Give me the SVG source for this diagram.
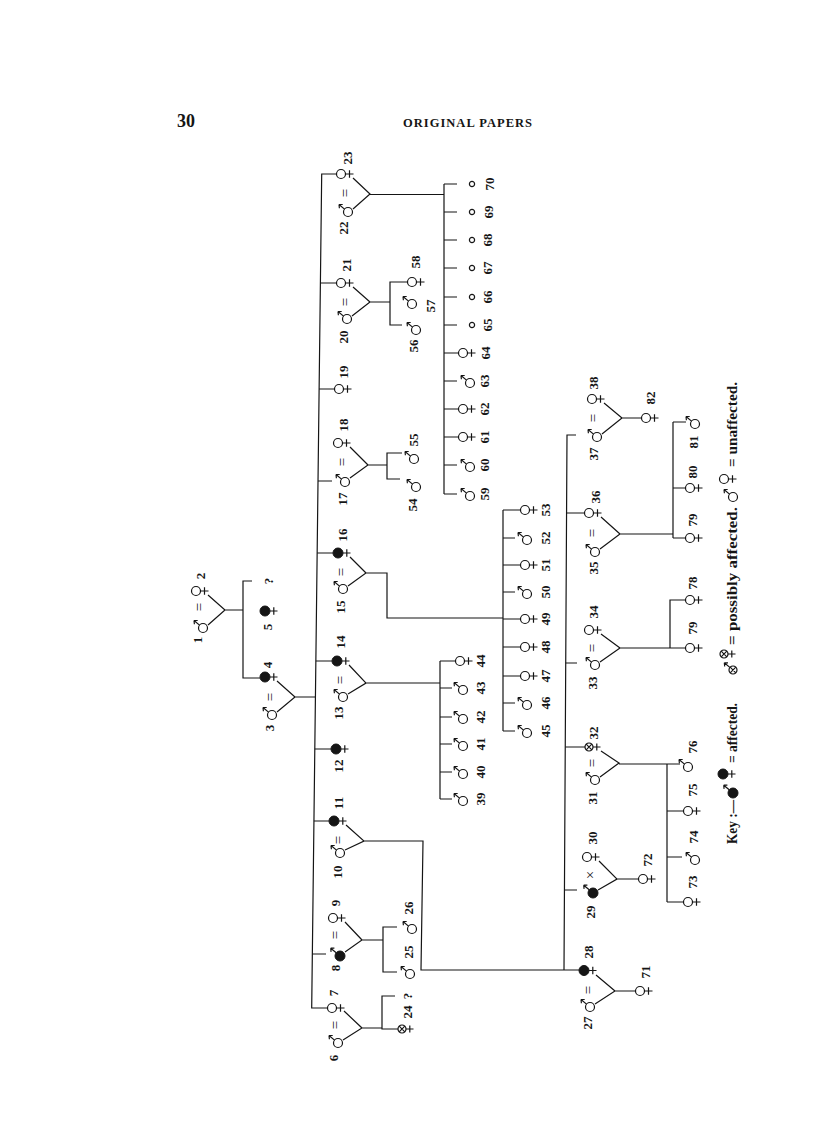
<svg xmlns="http://www.w3.org/2000/svg" width="816" height="1136" viewBox="0 0 816 1136">
<style>
.s{fill:none;stroke:#151515;stroke-width:1.2}
.o{fill:#fff;stroke:#151515;stroke-width:1.2}
.k{fill:#151515;stroke:#151515;stroke-width:1}
.n{font-family:"Liberation Serif",serif;font-size:13px;font-weight:bold;fill:#151515;text-anchor:middle;dominant-baseline:central}
.eq{font-family:"Liberation Serif",serif;font-size:15px;fill:#151515;text-anchor:middle;dominant-baseline:central}
.key{font-family:"Liberation Serif",serif;font-size:14px;font-weight:bold;fill:#151515}
.hd{font-family:"Liberation Serif",serif;font-weight:bold;fill:#151515}
</style>
<defs>
<g id="F"><circle r="4.5" class="o"/><path class="s" d="M4.5 0H12.5M8.5-3.8V3.8"/></g>
<g id="FA"><circle r="5" class="k"/><path class="s" d="M5 0H12.5M8.8-3.8V3.8"/></g>
<g id="FP"><circle r="4" class="o"/><path class="s" d="M-2.8-2.8L2.8 2.8M-2.8 2.8L2.8-2.8M4 0H11.5M7.8-3.6V3.6"/></g>
<g id="M"><circle r="4.5" class="o"/><path class="s" d="M-3.5-2.9L-9-7.5M-9-7.5H-5.3M-9-7.5L-8.6-3.8"/></g>
<g id="MA"><circle r="5" class="k"/><path class="s" d="M-3.8-3.2L-9.3-7.8M-9.3-7.8H-5.6M-9.3-7.8L-8.9-4.1"/></g>
<g id="MP"><circle r="4" class="o"/><path class="s" d="M-2.8-2.8L2.8 2.8M-2.8 2.8L2.8-2.8M-3.2-2.6L-8.7-7.2M-8.7-7.2H-5M-8.7-7.2L-8.3-3.5"/></g>
<g id="U"><circle r="2.6" class="o"/></g>
</defs>
<rect width="816" height="1136" fill="#fff"/>
<g id="header">
<text class="hd" x="177" y="127" font-size="18">30</text>
<text class="hd" x="403" y="127" font-size="12.5" textLength="129" lengthAdjust="spacing">ORIGINAL PAPERS</text>
</g>

<g id="connectors" class="s">
<path d="M208 595L225 610L208 625M225 610H243M252 581H243V678H260"/>
<path d="M277 681L295 697L277 712M295 697H315.4"/>
<path d="M336.5 174H321.7L311.7 1008H327.5"/>
<path d="M320.4 283H336.5M319.1 389H334.5M318 481H332M317.2 553H333M315.9 661H332M314.8 749H331M313.9 821H329M312.3 954H326"/>
<path d="M353 178L370 194L353 209M370 194.5H444"/>
<path d="M444 184V494M444 184H457M444 212H457M444 240H457M444 268H457M444 297H457M444 325H457M444 353H458.5M444 381H457M444 409H458.5M444 437H458.5M444 465H457M444 494H457"/>
<path d="M353 287L370 302L352 316M370 302H390M407.5 282H390V325H402"/>
<path d="M350 447L368 465L350 478M368 465H387M402 453H387V479H400"/>
<path d="M350 557L366 573L348 586M366 573H387V618H503"/>
<path d="M503 510V731M503 510H520.5M503 538H515M503 565H520.5M503 592H515M503 619H520.5M503 647H520.5M503 676H520.5M503 703H515M503 731H515"/>
<path d="M349 665L366 683L348 694M366 683H440"/>
<path d="M440 661V799M440 661H455.5M440 688H452M440 717H452M440 744H452M440 772H452M440 799H452"/>
<path d="M346 825L364 841L345 850M364 841H423L421 970H579"/>
<path d="M345 922L362 940L345 952M362 940H383M397 927H383V972H397"/>
<path d="M344 1011L362 1028L343 1040M362 1028H382M395 996H382V1029H398"/>
<path d="M576 435H567L564 970"/>
<path d="M566.6 513H584.5M565.7 663H577M565.3 747H585M564.5 890H577"/>
<path d="M604 403L622 418L602 434M622 418H641.5"/>
<path d="M601 517L620 534L600 549M620 534H673M673 422V538M673 422H686M673 488H685.5M673 538H685.5"/>
<path d="M601 634L620 648L600 662M620 648H685.5M670 648V600H685.5"/>
<path d="M601 751L619 763L600 777M619 764H680M667 764V902M667 811H683.5M667 857H682M667 902H683.5"/>
<path d="M599 861L617 879L598 890M617 879H638.5"/>
<path d="M596 975L615 991L595 1004M615 991H635.5"/>
</g>

<g id="marriages">
<text class="eq" x="199" y="607" transform="rotate(-90 199 607)">=</text>
<text class="eq" x="270" y="697" transform="rotate(-90 270 697)">=</text>
<text class="eq" x="345" y="193" transform="rotate(-90 345 193)">=</text>
<text class="eq" x="345" y="302" transform="rotate(-90 345 302)">=</text>
<text class="eq" x="342" y="462" transform="rotate(-90 342 462)">=</text>
<text class="eq" x="341" y="572" transform="rotate(-90 341 572)">=</text>
<text class="eq" x="340" y="680" transform="rotate(-90 340 680)">=</text>
<text class="eq" x="338" y="840" transform="rotate(-90 338 840)">=</text>
<text class="eq" x="335" y="935" transform="rotate(-90 335 935)">=</text>
<text class="eq" x="335" y="1025" transform="rotate(-90 335 1025)">=</text>
<text class="eq" x="593" y="418" transform="rotate(-90 593 418)">=</text>
<text class="eq" x="592" y="533" transform="rotate(-90 592 533)">=</text>
<text class="eq" x="592" y="648" transform="rotate(-90 592 648)">=</text>
<text class="eq" x="592" y="763" transform="rotate(-90 592 763)">=</text>
<text class="eq" x="590" y="875" transform="rotate(-90 590 875)">×</text>
<text class="eq" x="588" y="990" transform="rotate(-90 588 990)">=</text>
</g>

<g id="n1"><use href="#M" x="203" y="628"/><text class="n" x="197" y="640" transform="rotate(-90 197 640)">1</text></g>
<g id="n2"><use href="#F" x="196" y="591"/><text class="n" x="200" y="576" transform="rotate(-90 200 576)">2</text></g>
<g id="q1"><text class="n" x="268" y="581" transform="rotate(-90 268 581)">?</text></g>
<g id="n5"><use href="#FA" x="265" y="611"/><text class="n" x="267" y="627" transform="rotate(-90 267 627)">5</text></g>
<g id="n4"><use href="#FA" x="265" y="677"/><text class="n" x="267" y="665" transform="rotate(-90 267 665)">4</text></g>
<g id="n3"><use href="#M" x="272" y="715"/><text class="n" x="269" y="728" transform="rotate(-90 269 728)">3</text></g>

<g id="n23"><use href="#F" x="341" y="174"/><text class="n" x="347" y="158" transform="rotate(-90 347 158)">23</text></g>
<g id="n22"><use href="#M" x="348" y="212"/><text class="n" x="343" y="228" transform="rotate(-90 343 228)">22</text></g>
<g id="n21"><use href="#F" x="341" y="283"/><text class="n" x="346" y="265" transform="rotate(-90 346 265)">21</text></g>
<g id="n20"><use href="#M" x="347" y="319"/><text class="n" x="343" y="337" transform="rotate(-90 343 337)">20</text></g>
<g id="n19"><use href="#F" x="339" y="389"/><text class="n" x="343" y="372" transform="rotate(-90 343 372)">19</text></g>
<g id="n18"><use href="#F" x="338" y="443"/><text class="n" x="343" y="425" transform="rotate(-90 343 425)">18</text></g>
<g id="n17"><use href="#M" x="345" y="482"/><text class="n" x="342" y="499" transform="rotate(-90 342 499)">17</text></g>
<g id="n16"><use href="#FA" x="338" y="553"/><text class="n" x="342" y="535" transform="rotate(-90 342 535)">16</text></g>
<g id="n15"><use href="#M" x="343" y="589"/><text class="n" x="340" y="607" transform="rotate(-90 340 607)">15</text></g>
<g id="n14"><use href="#FA" x="337" y="661"/><text class="n" x="340" y="642" transform="rotate(-90 340 642)">14</text></g>
<g id="n13"><use href="#M" x="343" y="697"/><text class="n" x="338" y="713" transform="rotate(-90 338 713)">13</text></g>
<g id="n12"><use href="#FA" x="336" y="749"/><text class="n" x="338" y="766" transform="rotate(-90 338 766)">12</text></g>
<g id="n11"><use href="#FA" x="334" y="821"/><text class="n" x="338" y="803" transform="rotate(-90 338 803)">11</text></g>
<g id="n10"><use href="#M" x="340" y="853"/><text class="n" x="337" y="872" transform="rotate(-90 337 872)">10</text></g>
<g id="n9"><use href="#F" x="333" y="918"/><text class="n" x="335" y="903" transform="rotate(-90 335 903)">9</text></g>
<g id="n8"><use href="#MA" x="340" y="956"/><text class="n" x="335" y="968" transform="rotate(-90 335 968)">8</text></g>
<g id="n7"><use href="#F" x="332" y="1008"/><text class="n" x="333" y="993" transform="rotate(-90 333 993)">7</text></g>
<g id="n6"><use href="#M" x="338" y="1043"/><text class="n" x="333" y="1058" transform="rotate(-90 333 1058)">6</text></g>

<g id="q2"><text class="n" x="407" y="996" transform="rotate(-90 407 996)">?</text></g>
<g id="n24"><use href="#FP" x="402" y="1029"/><text class="n" x="407" y="1012" transform="rotate(-90 407 1012)">24</text></g>
<g id="n25"><use href="#M" x="410" y="974"/><text class="n" x="408" y="952" transform="rotate(-90 408 952)">25</text></g>
<g id="n26"><use href="#M" x="412" y="929"/><text class="n" x="408" y="908" transform="rotate(-90 408 908)">26</text></g>

<g id="n39"><use href="#M" x="463" y="801"/><text class="n" x="480" y="799" transform="rotate(-90 480 799)">39</text></g>
<g id="n40"><use href="#M" x="463" y="774"/><text class="n" x="480" y="772" transform="rotate(-90 480 772)">40</text></g>
<g id="n41"><use href="#M" x="463" y="746"/><text class="n" x="480" y="744" transform="rotate(-90 480 744)">41</text></g>
<g id="n42"><use href="#M" x="463" y="719"/><text class="n" x="480" y="717" transform="rotate(-90 480 717)">42</text></g>
<g id="n43"><use href="#M" x="463" y="690"/><text class="n" x="480" y="688" transform="rotate(-90 480 688)">43</text></g>
<g id="n44"><use href="#F" x="460" y="661"/><text class="n" x="480" y="661" transform="rotate(-90 480 661)">44</text></g>

<g id="n45"><use href="#M" x="527" y="733"/><text class="n" x="545" y="731" transform="rotate(-90 545 731)">45</text></g>
<g id="n46"><use href="#M" x="527" y="705"/><text class="n" x="545" y="703" transform="rotate(-90 545 703)">46</text></g>
<g id="n47"><use href="#F" x="525" y="676"/><text class="n" x="545" y="676" transform="rotate(-90 545 676)">47</text></g>
<g id="n48"><use href="#F" x="525" y="647"/><text class="n" x="545" y="647" transform="rotate(-90 545 647)">48</text></g>
<g id="n49"><use href="#F" x="525" y="619"/><text class="n" x="545" y="619" transform="rotate(-90 545 619)">49</text></g>
<g id="n50"><use href="#M" x="527" y="594"/><text class="n" x="545" y="592" transform="rotate(-90 545 592)">50</text></g>
<g id="n51"><use href="#F" x="525" y="565"/><text class="n" x="545" y="565" transform="rotate(-90 545 565)">51</text></g>
<g id="n52"><use href="#M" x="527" y="540"/><text class="n" x="545" y="538" transform="rotate(-90 545 538)">52</text></g>
<g id="n53"><use href="#F" x="525" y="510"/><text class="n" x="545" y="510" transform="rotate(-90 545 510)">53</text></g>

<g id="n54"><use href="#M" x="416" y="487"/><text class="n" x="412" y="505" transform="rotate(-90 412 505)">54</text></g>
<g id="n55"><use href="#M" x="414" y="459"/><text class="n" x="413" y="440" transform="rotate(-90 413 440)">55</text></g>
<g id="n56"><use href="#M" x="416" y="330"/><text class="n" x="413" y="346" transform="rotate(-90 413 346)">56</text></g>
<g id="n57"><use href="#M" x="412" y="304"/><text class="n" x="430" y="306" transform="rotate(-90 430 306)">57</text></g>
<g id="n58"><use href="#F" x="412" y="282"/><text class="n" x="415" y="262" transform="rotate(-90 415 262)">58</text></g>

<g id="n59"><use href="#M" x="470" y="496"/><text class="n" x="484" y="494" transform="rotate(-90 484 494)">59</text></g>
<g id="n60"><use href="#M" x="470" y="467"/><text class="n" x="484" y="465" transform="rotate(-90 484 465)">60</text></g>
<g id="n61"><use href="#F" x="463" y="437"/><text class="n" x="484" y="437" transform="rotate(-90 484 437)">61</text></g>
<g id="n62"><use href="#F" x="463" y="409"/><text class="n" x="484" y="409" transform="rotate(-90 484 409)">62</text></g>
<g id="n63"><use href="#M" x="470" y="383"/><text class="n" x="484" y="381" transform="rotate(-90 484 381)">63</text></g>
<g id="n64"><use href="#F" x="463" y="353"/><text class="n" x="485" y="353" transform="rotate(-90 485 353)">64</text></g>
<g id="n65"><use href="#U" x="472" y="325"/><text class="n" x="487" y="325" transform="rotate(-90 487 325)">65</text></g>
<g id="n66"><use href="#U" x="472" y="297"/><text class="n" x="487" y="297" transform="rotate(-90 487 297)">66</text></g>
<g id="n67"><use href="#U" x="472" y="268"/><text class="n" x="487" y="268" transform="rotate(-90 487 268)">67</text></g>
<g id="n68"><use href="#U" x="472" y="240"/><text class="n" x="487" y="240" transform="rotate(-90 487 240)">68</text></g>
<g id="n69"><use href="#U" x="472" y="212"/><text class="n" x="488" y="212" transform="rotate(-90 488 212)">69</text></g>
<g id="n70"><use href="#U" x="472" y="184"/><text class="n" x="489" y="184" transform="rotate(-90 489 184)">70</text></g>

<g id="n38"><use href="#F" x="592" y="399"/><text class="n" x="593" y="383" transform="rotate(-90 593 383)">38</text></g>
<g id="n37"><use href="#M" x="597" y="437"/><text class="n" x="593" y="454" transform="rotate(-90 593 454)">37</text></g>
<g id="n36"><use href="#F" x="589" y="513"/><text class="n" x="595" y="497" transform="rotate(-90 595 497)">36</text></g>
<g id="n35"><use href="#M" x="595" y="552"/><text class="n" x="593" y="568" transform="rotate(-90 593 568)">35</text></g>
<g id="n34"><use href="#F" x="589" y="630"/><text class="n" x="593" y="612" transform="rotate(-90 593 612)">34</text></g>
<g id="n33"><use href="#M" x="595" y="665"/><text class="n" x="592" y="683" transform="rotate(-90 592 683)">33</text></g>
<g id="n32"><use href="#FP" x="589" y="747"/><text class="n" x="593" y="733" transform="rotate(-90 593 733)">32</text></g>
<g id="n31"><use href="#M" x="595" y="780"/><text class="n" x="592" y="798" transform="rotate(-90 592 798)">31</text></g>
<g id="n30"><use href="#F" x="587" y="857"/><text class="n" x="592" y="838" transform="rotate(-90 592 838)">30</text></g>
<g id="n29"><use href="#MA" x="593" y="893"/><text class="n" x="590" y="912" transform="rotate(-90 590 912)">29</text></g>
<g id="n28"><use href="#FA" x="584" y="970.5"/><text class="n" x="588" y="952" transform="rotate(-90 588 952)">28</text></g>
<g id="n27"><use href="#M" x="590" y="1007"/><text class="n" x="587" y="1023" transform="rotate(-90 587 1023)">27</text></g>

<g id="n82"><use href="#F" x="646" y="418"/><text class="n" x="650" y="398" transform="rotate(-90 650 398)">82</text></g>
<g id="n81"><use href="#M" x="695" y="424"/><text class="n" x="693" y="442" transform="rotate(-90 693 442)">81</text></g>
<g id="n80"><use href="#F" x="690" y="488"/><text class="n" x="692" y="472" transform="rotate(-90 692 472)">80</text></g>
<g id="n79a"><use href="#F" x="690" y="538"/><text class="n" x="692" y="520" transform="rotate(-90 692 520)">79</text></g>
<g id="n78"><use href="#F" x="690" y="600"/><text class="n" x="692" y="583" transform="rotate(-90 692 583)">78</text></g>
<g id="n79b"><use href="#F" x="690" y="648"/><text class="n" x="692" y="628" transform="rotate(-90 692 628)">79</text></g>
<g id="n76"><use href="#M" x="688" y="767"/><text class="n" x="692" y="747" transform="rotate(-90 692 747)">76</text></g>
<g id="n75"><use href="#F" x="688" y="811"/><text class="n" x="692" y="790" transform="rotate(-90 692 790)">75</text></g>
<g id="n74"><use href="#M" x="695" y="860"/><text class="n" x="693" y="837" transform="rotate(-90 693 837)">74</text></g>
<g id="n73"><use href="#F" x="688" y="902"/><text class="n" x="692" y="882" transform="rotate(-90 692 882)">73</text></g>
<g id="n72"><use href="#F" x="643" y="879"/><text class="n" x="647" y="860" transform="rotate(-90 647 860)">72</text></g>
<g id="n71"><use href="#F" x="640" y="991"/><text class="n" x="645" y="972" transform="rotate(-90 645 972)">71</text></g>

<g id="key">
<text class="key" transform="translate(737 844) rotate(-90)" textLength="44" lengthAdjust="spacingAndGlyphs">Key :—</text>
<use href="#MA" x="733" y="793"/>
<use href="#FA" x="723" y="774"/>
<text class="key" transform="translate(737 763) rotate(-90)" textLength="60" lengthAdjust="spacingAndGlyphs">= affected.</text>
<use href="#MP" x="733" y="670"/>
<use href="#FP" x="724" y="654"/>
<text class="key" transform="translate(737 645) rotate(-90)" textLength="138" lengthAdjust="spacingAndGlyphs">= possibly affected.</text>
<use href="#M" x="733" y="497"/>
<use href="#F" x="724" y="479"/>
<text class="key" transform="translate(737 467) rotate(-90)" textLength="85" lengthAdjust="spacingAndGlyphs">= unaffected.</text>
</g>
</svg>
